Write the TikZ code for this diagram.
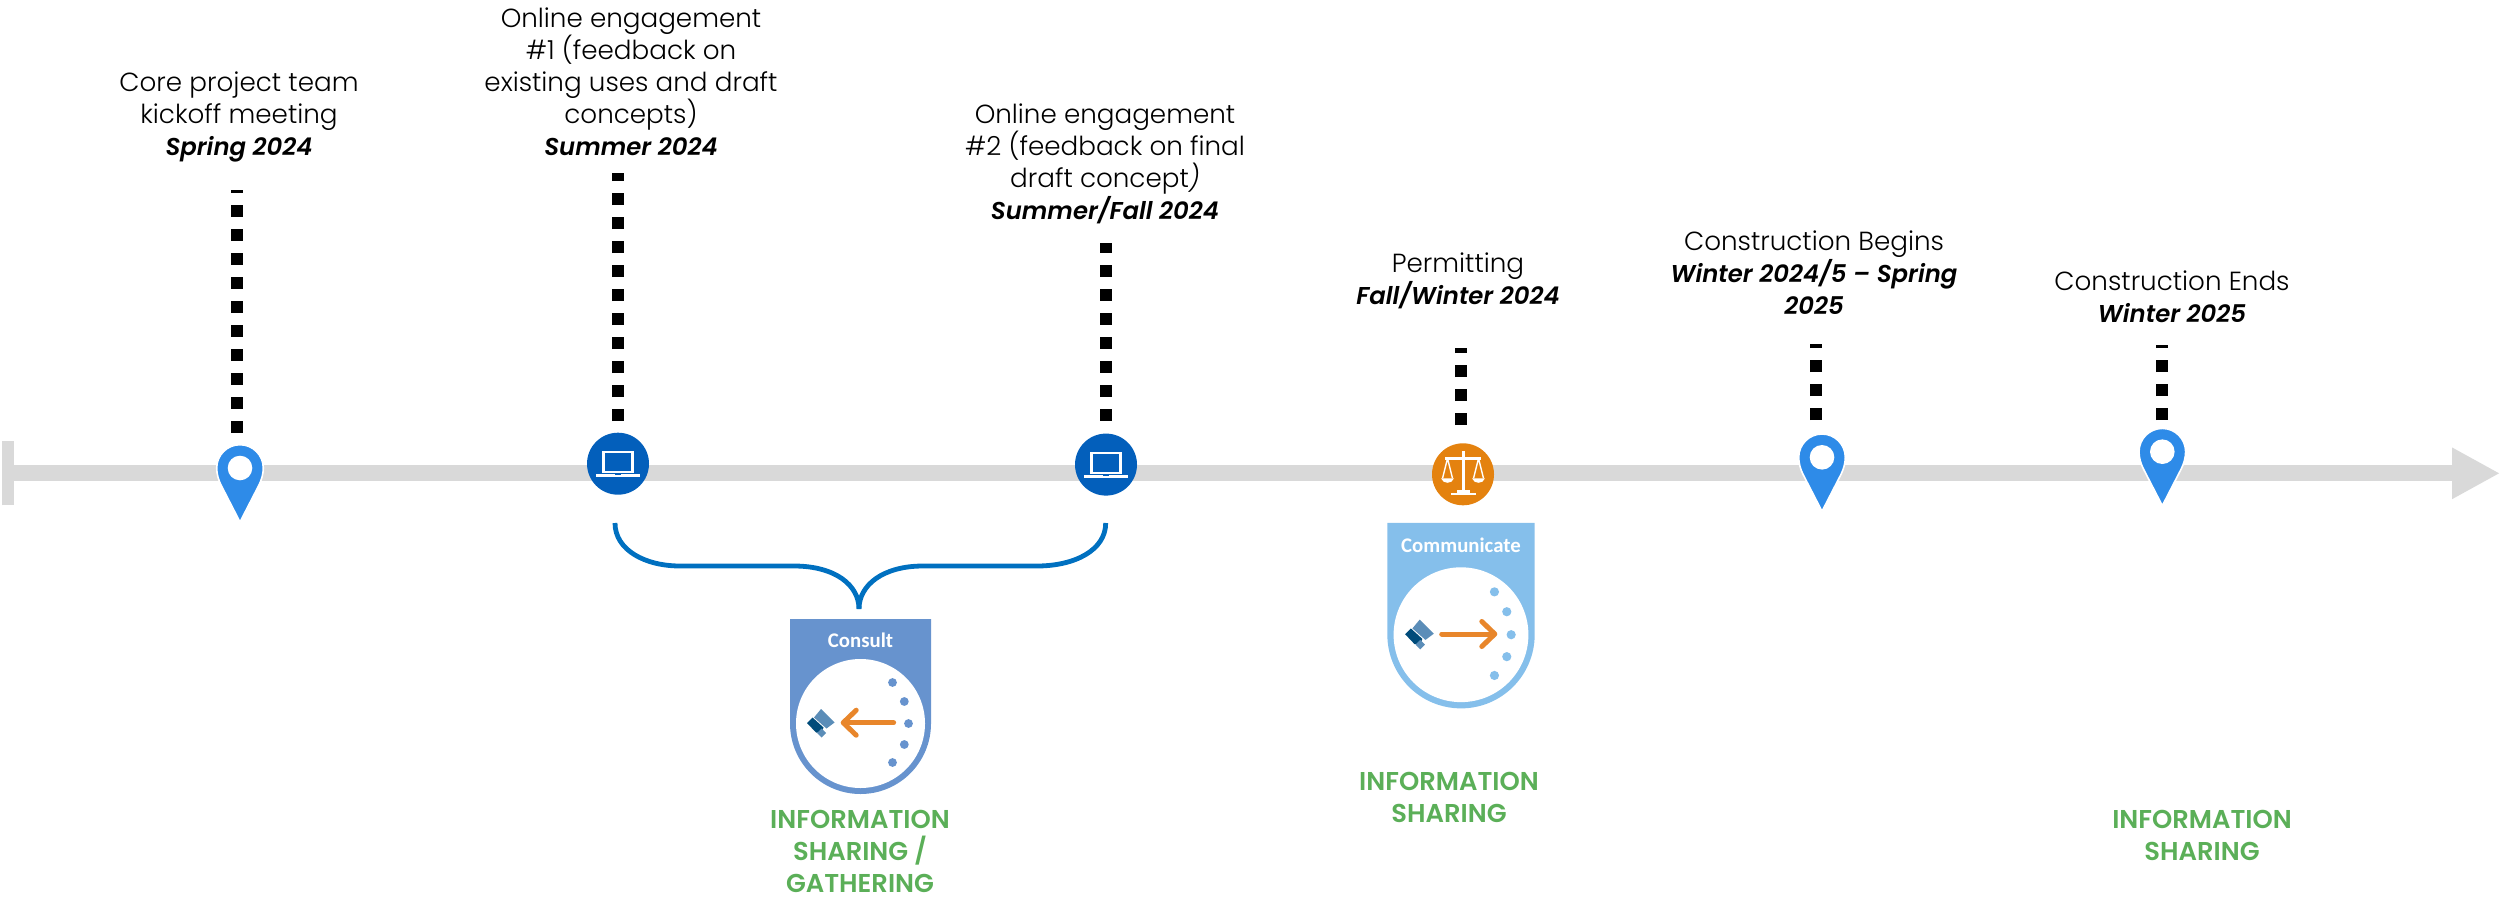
\documentclass[tikz,border=0pt]{standalone}
\usepackage{fontspec}
\setmainfont{Poppins Light}[BoldItalicFont={Poppins SemiBold Italic},BoldItalicFeatures={Scale=0.93}]
\newfontfamily\greenfont{Poppins SemiBold}
\newfontfamily\badgefont{Carlito}
\usetikzlibrary{arrows.meta}
\definecolor{axisgray}{HTML}{D9D9D9}
\definecolor{pinblue}{HTML}{2E8BE8}
\definecolor{laptopblue}{HTML}{035FBB}
\definecolor{bracketblue}{HTML}{0070C0}
\definecolor{scaleorange}{HTML}{E4820F}
\definecolor{arroworange}{HTML}{E8862B}
\definecolor{consultblue}{HTML}{6793CE}
\definecolor{communicateblue}{HTML}{85BFEB}
\definecolor{sharegreen}{HTML}{5BAF58}
\definecolor{logolight}{HTML}{5B8DB8}
\definecolor{logodark}{HTML}{004B7A}
\newcommand{\datetext}[1]{\textbf{\textit{#1}}}

\begin{document}
\begin{tikzpicture}[x=0.5pt, y=-0.5pt,
					axisline/.style={draw=axisgray, line width=8pt, {Bar[width=32pt,line width=6pt]}-{Triangle[length=24pt,width=24pt]}},
					dotline/.style={draw=black, line width=6pt, dash pattern=on 5.85pt off 6.15pt},
					bracket/.style={draw=bracketblue, line width=2.4pt},
					eventtext/.style={align=center, font=\fontsize{13.1}{16}\selectfont},
					sharetext/.style={align=center, text=sharegreen, font=\greenfont\fontsize{12.9}{16}\selectfont},
					iconnode/.style={circle, minimum size=31pt, inner sep=0pt},
					badgearrow/.style={draw=arroworange, line width=2.5pt, line cap=round, -{Straight Barb[round,length=6.5pt,width=12.5pt]}},
					pics/pin/.style={code={
						\filldraw[fill=pinblue, draw=white, line width=0.8pt] (0,54) -- (-19,17) .. controls (-21.5,12) and (-23.3,6) .. (-23.3,0) arc[start angle=180, end angle=360, radius=23.3] .. controls (23.3,6) and (21.5,12) .. (19,17) -- cycle;
						\fill[white] (0,0) circle[radius=12.3];
					}},
					pics/laptop/.style={code={
						\draw[white, line width=1.2pt] (-14.5,-11.5) rectangle (14.5,8.5);
						\fill[white] (-21.6,10.7) rectangle (21.6,13);
						\fill[laptopblue] (-3,10.7) rectangle (3,11.7);
					}},
					pics/scales/.style={code={
						\fill[white] (-1.5,-23) rectangle (1.5,19);
						\fill[white] (-6.5,16) rectangle (6.5,19);
						\fill[white] (-12.5,18.5) rectangle (12.5,21);
						\draw[white, line width=1.2pt] (-18,-16) -- (18,-16);
						\draw[white, line width=0.7pt] (-15.5,-16) -- (-20.5,4) (-15.5,-16) -- (-10.5,4) (15.5,-16) -- (10.5,4) (15.5,-16) -- (20.5,4);
						\fill[white] (-22,4) .. controls (-20,10) and (-11,10) .. (-9,4) -- cycle;
						\fill[white] (9,4) .. controls (11,10) and (20,10) .. (22,4) -- cycle;
					}},
					pics/badge/.style n args={3}{code={
						\fill[#1] (-70.5,#3) -- (-70.5,0) arc[start angle=180, end angle=0, radius=70.5] -- (70.5,#3) -- cycle;
						\fill[white] (0,0) circle[radius=64.5];
						\node[text=white, font=\badgefont\bfseries\fontsize{10.4}{12}\selectfont] (-label) at (0,#3+21.5) {#2};
						\foreach \px/\py in {32/-41, 43.8/-22, 48/0, 43.8/21, 32/39} {
							\fill[#1] (\px,\py) circle[radius=4.4];
						}
						\fill[logolight] (-39.5,-14.5) -- (-26,-1) -- (-34,5) -- (-46.5,-6) -- cycle;
						\fill[logodark] (-53.5,-0.5) -- (-48,-6) -- (-37,4) -- (-39,9) -- (-44.5,9) -- cycle;
						\fill[logolight] (-43.5,9.5) -- (-39,5) -- (-34.5,9.5) -- (-39,14) -- cycle;
					}}]
\useasboundingbox (0,0) rectangle (2504,899);

\coordinate (axisstart) at (2,473.3);
\coordinate (axisend) at (2500,473.3);
\draw[axisline] (axisstart) -- (axisend);

\coordinate (kickoffdot) at (236.7,432.5);
\coordinate (kickofftop) at (236.7,189.5);
\coordinate (onlineAtop) at (618,173);
\coordinate (onlineAdot) at (618,421);
\coordinate (onlineBtop) at (1105.8,243);
\coordinate (onlineBdot) at (1105.8,420.7);
\coordinate (permittop) at (1461,348);
\coordinate (permitdot) at (1461,425);
\coordinate (beginstop) at (1816.3,344);
\coordinate (beginsdot) at (1816.3,420);
\coordinate (endstop) at (2161.8,345);
\coordinate (endsdot) at (2161.8,420);
\draw[dotline] (kickoffdot) -- (kickofftop);
\draw[dotline] (onlineAdot) -- (onlineAtop);
\draw[dotline] (onlineBdot) -- (onlineBtop);
\draw[dotline] (permitdot) -- (permittop);
\draw[dotline] (beginsdot) -- (beginstop);
\draw[dotline] (endsdot) -- (endstop);

\pic at (240,468) {pin};
\pic at (1822,457.3) {pin};
\pic at (2162.3,451.7) {pin};
\node[iconnode, fill=laptopblue] (onlineA) at (618,463.7) {};
\node[iconnode, fill=laptopblue] (onlineB) at (1106,464.6) {};
\node[iconnode, fill=scaleorange] (permit) at (1463,474.3) {};
\pic at (onlineA) {laptop};
\pic at (onlineB) {laptop};
\pic at (permit) {scales};

\coordinate (braceL) at (615,523);
\coordinate (braceM) at (859,609);
\coordinate (braceR) at (1105.7,523);
\draw[bracket] (braceL) .. controls (615,550) and (645,566) .. (680,566) -- (794,566) .. controls (835,566) and (859,585) .. (braceM);
\draw[bracket] (braceR) .. controls (1105.7,550) and (1075,566) .. (1037,566) -- (923,566) .. controls (883,566) and (859,585) .. (braceM);

\pic (consult) at (860.5,723.5) {badge={consultblue}{Consult}{-104.5}};
\pic[scale=1.045] (communicate) at (1461,634.7) {badge={communicateblue}{Communicate}{-106.9}};
\coordinate (consulttail) at (893.6,722.7);
\coordinate (consulthead) at (840.7,722.7);
\coordinate (communicatetail) at (1441.7,634);
\coordinate (communicatehead) at (1497.3,634);
\draw[badgearrow] (consulttail) -- (consulthead);
\draw[badgearrow] (communicatetail) -- (communicatehead);

\node[eventtext] (kickoff) at (239,117) {Core project team\\kickoff meeting\\\datetext{Spring 2024}};
\node[eventtext] (engageA) at (631,82) {Online engagement\\\#1 (feedback on\\existing uses and draft\\concepts)\\\datetext{Summer 2024}};
\node[eventtext] (engageB) at (1105,164) {Online engagement\\\#2 (feedback on final\\draft concept\textit{)}\\\datetext{Summer/Fall 2024}};
\node[eventtext] (permitting) at (1458,281) {Permitting\\\datetext{Fall/Winter 2024}};
\node[eventtext] (begins) at (1814,273) {Construction Begins\\\datetext{Winter 2024/5 -- Spring}\\\datetext{2025}};
\node[eventtext] (ends) at (2172,297) {Construction Ends\\\datetext{Winter 2025}};
\node[sharetext] (shareA) at (860,851) {INFORMATION\\SHARING /\\GATHERING};
\node[sharetext] (shareB) at (1449,797) {INFORMATION\\SHARING};
\node[sharetext] (shareC) at (2202,835) {INFORMATION\\SHARING};
\end{tikzpicture}
\end{document}
